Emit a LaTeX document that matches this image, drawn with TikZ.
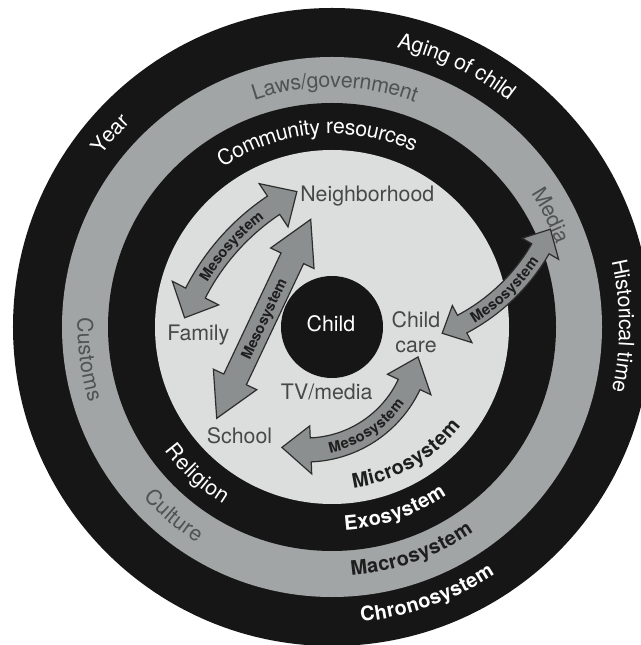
\documentclass[tikz,border=0pt]{standalone}
\usepackage{fontspec}
\setmainfont{TeX Gyre Heros}
\usepackage{tikz}
\usetikzlibrary{decorations.text}

\newcommand{\rchrono}{319}
\newcommand{\rmacro}{270}
\newcommand{\rexo}{224}
\newcommand{\rmicro}{177}
\newcommand{\rchild}{51}

\definecolor{ringblack}{RGB}{22,22,22}
\definecolor{ringgray}{RGB}{162,165,165}
\definecolor{ringlight}{RGB}{220,222,221}
\definecolor{mesofill}{RGB}{140,143,143}
\definecolor{mesoedge}{RGB}{45,45,45}
\definecolor{graytext}{RGB}{80,83,83}
\definecolor{innertext}{RGB}{72,72,72}
\definecolor{darktext}{RGB}{30,30,30}

\newcommand{\labfont}{\fontsize{16}{19}\selectfont}
\newcommand{\sysfont}{\fontsize{15}{18}\selectfont\bfseries}
\newcommand{\mesofont}{\fontsize{11}{13}\selectfont\bfseries}

\tikzstyle{mesoarrow}=[fill=mesofill,draw=mesoedge,line width=0.9pt,line join=miter]
\tikzstyle{inner}=[text=innertext,font=\labfont,inner sep=0pt]
\tikzstyle{mesotext}=[text=darktext,font=\mesofont,inner sep=0pt,text depth=0pt]

% text on a ring: radius, middle angle, format, text
\newcommand{\cwtext}[4]{\path[decorate,decoration={text along path,text={|#3|#4},text align=center,raise=-5.5pt}] (#2+40:#1) arc[start angle=#2+40,end angle=#2-40,radius=#1];}
\newcommand{\ccwtext}[4]{\path[decorate,decoration={text along path,text={|#3|#4},text align=center,raise=-5.5pt}] (#2-40:#1) arc[start angle=#2-40,end angle=#2+40,radius=#1];}

% curved double arrow: centre, radius, start, end, shaft, head width, head length
\newcommand{\mesoarc}[7]{%
\begin{scope}[shift={#1}]
\pgfmathsetmacro{\hang}{sign((#4)-(#3))*#7/#2*57.2958}
\pgfmathsetmacro{\aA}{#3+(\hang)}
\pgfmathsetmacro{\aB}{#4-(\hang)}
\pgfmathsetmacro{\ro}{#2+#5}
\pgfmathsetmacro{\ri}{#2-#5}
\pgfmathsetmacro{\rho}{#2+#6}
\pgfmathsetmacro{\rhi}{#2-#6}
\draw[mesoarrow] (#3:#2) -- (\aA:\rho) -- (\aA:\ro)
  arc[start angle=\aA,end angle=\aB,radius=\ro]
  -- (\aB:\rho) -- (#4:#2) -- (\aB:\rhi) -- (\aB:\ri)
  arc[start angle=\aB,end angle=\aA,radius=\ri]
  -- (\aA:\rhi) -- cycle;
\path[decorate,decoration={text along path,text={|\mesofont\color{darktext}|Mesosystem},text align=center,raise=-4pt}] (#3:#2) arc[start angle=#3,end angle=#4,radius=#2];
\end{scope}}

\begin{document}
\begin{tikzpicture}[x=0.75pt,y=0.75pt]

\clip (-332,-318) rectangle (309,327);
\fill[white] (-332,-318) rectangle (309,327);

\foreach \r/\c in {\rchrono/ringblack,\rmacro/ringgray,\rexo/ringblack,\rmicro/ringlight,\rchild/ringblack}
\fill[\c] (0,0) circle (\r);

% chronosystem
\cwtext{294.5}{64.5}{\labfont\color{white}}{Aging of child}
\cwtext{294.5}{139}{\labfont\color{white}}{Year}
\cwtext{294.5}{0.2}{\labfont\color{white}}{Historical time}
\ccwtext{289}{289.5}{\sysfont\color{white}}{Chronosystem}

% macrosystem
\cwtext{247}{89.3}{\labfont\color{graytext}}{Laws/government}
\cwtext{247}{27}{\labfont\color{graytext}}{Media}
\ccwtext{247}{187.5}{\labfont\color{graytext}}{Customs}
\ccwtext{247}{230}{\labfont\color{graytext}}{Culture}
\ccwtext{242}{289.5}{\sysfont\color{darktext}}{Macrosystem}

% exosystem
\cwtext{200.5}{94.6}{\labfont\color{white}}{Community resources}
\ccwtext{200.5}{227.5}{\labfont\color{white}}{Religion}
\ccwtext{196}{289}{\sysfont\color{white}}{Exosystem}

% microsystem
\ccwtext{155}{300}{\sysfont\color{darktext}}{Microsystem}

\node[inner,anchor=base west] (neighborhood) at (-32,125) {Neighborhood};
\node[inner,anchor=base west] (family) at (-165,-14) {Family};
\node[inner,anchor=base west] (school) at (-125.3,-116) {School};
\node[inner,anchor=base] (tvmedia) at (-5.3,-73) {TV/media};
\node[inner,align=center] (childcare) at (84,-5) {Child\\care};
\node[inner,anchor=base,text=white] (child) at (-1,-4.7) {Child};

% mesosystem arrows
\mesoarc{(71,-72)}{233}{159.6}{117.1}{11}{26}{27}
\mesoarc{(-26,-9)}{114}{-102.2}{-10.6}{12}{24}{29}
\mesoarc{(38,177)}{197}{-68.5}{-23.7}{10}{21}{22}

\begin{scope}[shift={(-115.3,-91.3)},rotate=64.7]
\draw[mesoarrow] (0,0) -- (43,24) -- (43,12.5) -- (177,12.5) -- (177,24) -- (220,0)
  -- (177,-24) -- (177,-12.5) -- (43,-12.5) -- (43,-24) -- cycle;
\node[mesotext,rotate=64.7] (schoolmeso) at (110,0) {Mesosystem};
\end{scope}

\end{tikzpicture}
\end{document}
